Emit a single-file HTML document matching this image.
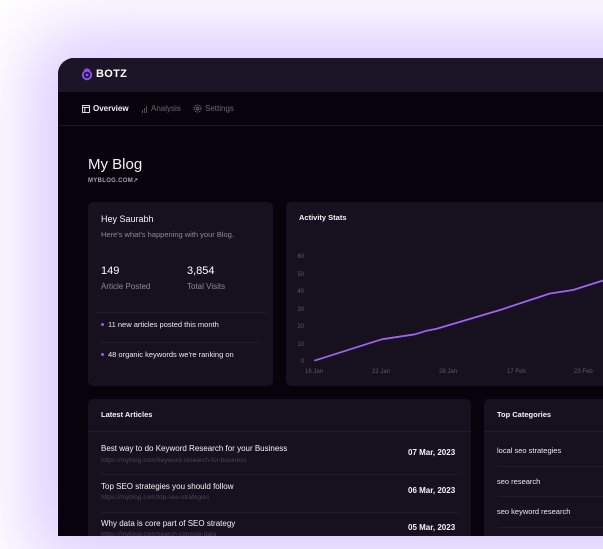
<!DOCTYPE html>
<html><head><meta charset="utf-8"><style>
*{margin:0;padding:0;box-sizing:border-box}
html,body{width:603px;height:538px;overflow:hidden;background:#fff;font-family:"Liberation Sans",sans-serif}
.glow{position:absolute;left:58px;top:58px;width:600px;height:478px;border-radius:16px 0 0 0;box-shadow:0 0 70px 28px rgba(175,130,255,0.42)}
.clip{position:absolute;left:0;top:0;width:603px;height:538px;clip-path:inset(58px 0 2px 58px round 16px 0 0 0)}
.win{position:absolute;left:58px;top:58px;width:560px;height:478px;background:#07020c}
.hdr{position:absolute;left:0;top:0;width:100%;height:34px;background:#1c1427}
.nav{position:absolute;left:0;top:34px;width:100%;height:34px;border-bottom:1px solid #1e1727}
.t{position:absolute;white-space:nowrap;line-height:1}
.card{position:absolute;background:#17101f;border-radius:5px}
.hr{position:absolute;height:1px;background:#221a2d}
.dot{display:inline-block;width:3px;height:3px;background:#9b5cf5;border-radius:50%;margin-right:4px;vertical-align:middle;position:relative;top:-1px}
</style></head><body>
<div class="glow"></div>
<div class="clip">
<div class="win">
  <div class="hdr"></div>
  <div class="nav"></div>
</div>
<svg style="position:absolute;left:81px;top:68px" width="12" height="13" viewBox="0 0 12 13">
  <circle cx="6" cy="7" r="4.2" fill="none" stroke="#8d4df2" stroke-width="2"/>
  <circle cx="6" cy="7" r="1.5" fill="#8d4df2"/>
  <path d="M3 2.5 L6 1 L9 2.5" stroke="#8d4df2" stroke-width="1.6" fill="none"/>
</svg>
<div class="t" style="left:96px;top:69px;font-size:11px;font-weight:bold;color:#fff;letter-spacing:0.3px">BOTZ</div>

<svg style="position:absolute;left:82px;top:105px" width="8" height="8" viewBox="0 0 8 8"><rect x="0.5" y="0.5" width="7" height="7" fill="none" stroke="#ddd" stroke-width="1"/><line x1="0.5" y1="2.5" x2="7.5" y2="2.5" stroke="#ddd"/><line x1="2.8" y1="2.5" x2="2.8" y2="7.5" stroke="#ddd"/></svg>
<div class="t" style="left:93px;top:105px;font-size:8px;font-weight:bold;color:#f0eef4">Overview</div>
<svg style="position:absolute;left:141px;top:105px" width="7" height="8"><rect x="1" y="5" width="1" height="3" fill="#555"/><rect x="3" y="3" width="1" height="5" fill="#555"/><rect x="5" y="1" width="1" height="7" fill="#555"/></svg>
<div class="t" style="left:151px;top:105px;font-size:8px;color:#6d6776">Analysis</div>
<svg style="position:absolute;left:193px;top:104px" width="9" height="9" viewBox="0 0 9 9"><circle cx="4.5" cy="4.5" r="3.5" fill="none" stroke="#6d6776" stroke-width="1" stroke-dasharray="1.5 0.8"/><circle cx="4.5" cy="4.5" r="1.4" fill="none" stroke="#6d6776"/></svg>
<div class="t" style="left:205px;top:105px;font-size:8px;color:#6d6776">Settings</div>

<div class="t" style="left:88px;top:157px;font-size:15px;color:#f4f2f7">My Blog</div>
<div class="t" style="left:88px;top:178px;font-size:6px;font-weight:bold;color:#a5a0ad;letter-spacing:0.3px">MYBLOG.COM&#x2197;</div>

<div class="card" style="left:88px;top:202px;width:185px;height:184px"></div>
<div class="t" style="left:101px;top:215px;font-size:9px;color:#f4f2f7">Hey Saurabh</div>
<div class="t" style="left:101px;top:231px;font-size:7.5px;color:#8e8898">Here's what's happening with your Blog.</div>
<div class="t" style="left:101px;top:266px;font-size:11px;color:#fff">149</div>
<div class="t" style="left:187px;top:266px;font-size:11px;color:#fff">3,854</div>
<div class="t" style="left:101px;top:283px;font-size:8px;color:#8e8898">Article Posted</div>
<div class="t" style="left:187px;top:283px;font-size:8px;color:#8e8898">Total Visits</div>
<div class="hr" style="left:96px;top:312px;width:170px"></div>
<div class="t" style="left:101px;top:321px;font-size:7.5px;color:#ebe8ef"><span class="dot"></span>11 new articles posted this month</div>
<div class="hr" style="left:101px;top:342px;width:160px"></div>
<div class="t" style="left:101px;top:351px;font-size:7.5px;color:#ebe8ef"><span class="dot"></span>48 organic keywords we're ranking on</div>

<div class="card" style="left:286px;top:202px;width:330px;height:184px"></div>
<div class="t" style="left:299px;top:214px;font-size:7.5px;font-weight:bold;color:#f4f2f7">Activity Stats</div>
<div style="position:absolute;left:286px;top:250px;width:18px;font-size:6px;color:#5f5869;text-align:right;line-height:1">
<div style="position:absolute;right:0;top:4px">60</div>
<div style="position:absolute;right:0;top:21.5px">50</div>
<div style="position:absolute;right:0;top:39px">40</div>
<div style="position:absolute;right:0;top:56.5px">30</div>
<div style="position:absolute;right:0;top:74px">20</div>
<div style="position:absolute;right:0;top:91.5px">10</div>
<div style="position:absolute;right:0;top:109px">0</div>
</div>
<div class="t" style="left:305px;top:369px;font-size:6px;color:#5f5869">16 Jan</div>
<div class="t" style="left:372px;top:369px;font-size:6px;color:#5f5869">22 Jan</div>
<div class="t" style="left:439px;top:369px;font-size:6px;color:#5f5869">28 Jan</div>
<div class="t" style="left:507px;top:369px;font-size:6px;color:#5f5869">17 Feb</div>
<div class="t" style="left:574px;top:369px;font-size:6px;color:#5f5869">23 Feb</div>
<svg style="position:absolute;left:0;top:0" width="603" height="538">
<polyline points="314.3,360.7 381.7,339.3 415,334.3 426.7,330.7 436.7,328.7 500,310 550,293.5 573,290 603,280.5" fill="none" stroke="#a062f0" stroke-width="1.8" stroke-linejoin="round"/>
</svg>

<div class="card" style="left:88px;top:399px;width:383px;height:150px"></div>
<div class="t" style="left:101px;top:411px;font-size:7.5px;font-weight:bold;color:#f4f2f7">Latest Articles</div>
<div class="hr" style="left:88px;top:431px;width:383px"></div>
<div class="t" style="left:101px;top:445px;font-size:8px;color:#f4f2f7">Best way to do Keyword Research for your Business</div>
<div class="t" style="left:101px;top:458px;font-size:6.5px;color:#4a4354">https://myblog.com/keyword-research-for-business</div>
<div class="t" style="left:408px;top:449px;font-size:8px;font-weight:bold;color:#f4f2f7">07 Mar, 2023</div>
<div class="hr" style="left:101px;top:474px;width:357px"></div>
<div class="t" style="left:101px;top:483px;font-size:8px;color:#f4f2f7">Top SEO strategies you should follow</div>
<div class="t" style="left:101px;top:495px;font-size:6.5px;color:#4a4354">https://myblog.com/top-seo-strategies</div>
<div class="t" style="left:408px;top:487px;font-size:8px;font-weight:bold;color:#f4f2f7">06 Mar, 2023</div>
<div class="hr" style="left:101px;top:512px;width:357px"></div>
<div class="t" style="left:101px;top:520px;font-size:8px;color:#f4f2f7">Why data is core part of SEO strategy</div>
<div class="t" style="left:101px;top:532px;font-size:6.5px;color:#4a4354">https://myblog.com/search-console-data</div>
<div class="t" style="left:408px;top:524px;font-size:8px;font-weight:bold;color:#f4f2f7">05 Mar, 2023</div>

<div class="card" style="left:484px;top:399px;width:130px;height:150px"></div>
<div class="t" style="left:497px;top:411px;font-size:7.5px;font-weight:bold;color:#f4f2f7">Top Categories</div>
<div class="hr" style="left:484px;top:431px;width:130px"></div>
<div class="t" style="left:497px;top:447px;font-size:7.5px;color:#ebe8ef">local seo strategies</div>
<div class="hr" style="left:497px;top:466px;width:110px"></div>
<div class="t" style="left:497px;top:478px;font-size:7.5px;color:#ebe8ef">seo research</div>
<div class="hr" style="left:497px;top:496px;width:110px"></div>
<div class="t" style="left:497px;top:508px;font-size:7.5px;color:#ebe8ef">seo keyword research</div>
<div class="hr" style="left:497px;top:527px;width:110px"></div>
</div>
</body></html>
